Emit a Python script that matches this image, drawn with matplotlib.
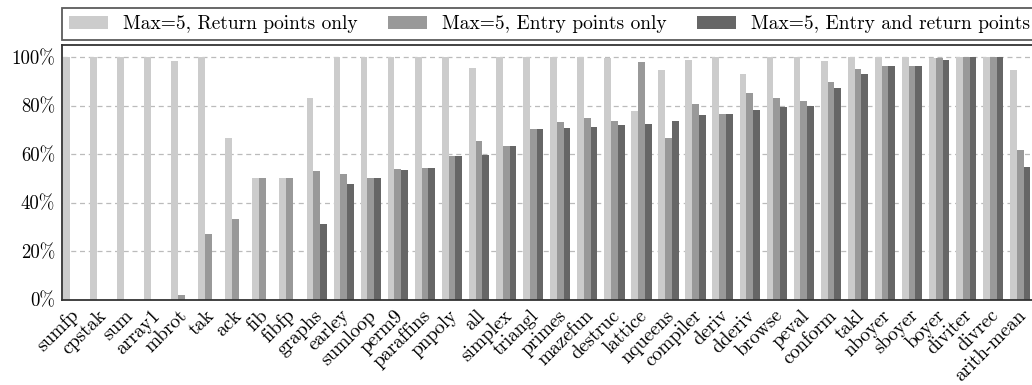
import numpy as np
import matplotlib
matplotlib.use('Agg')
import matplotlib.pyplot as plt

plt.rcParams['font.family'] = ['cmr10', 'DejaVu Serif']
plt.rcParams['axes.unicode_minus'] = False

benchmarks = ['sumfp', 'cpstak', 'sum', 'array1', 'mbrot', 'tak', 'ack', 'fib', 'fibfp',
              'graphs', 'earley', 'sumloop', 'perm9', 'paraffins', 'pnpoly', 'all',
              'simplex', 'triangl', 'primes', 'mazefun', 'destruc', 'lattice', 'nqueens',
              'compiler', 'deriv', 'dderiv', 'browse', 'peval', 'conform', 'takl',
              'nboyer', 'sboyer', 'boyer', 'diviter', 'divrec', 'arith-mean']

return_only = [100, 100, 100, 100, 98.6, 100, 66.5, 50, 50,
               83.0, 100, 100, 100, 100, 100, 95.7,
               100, 100, 100, 100, 99.6, 77.6, 94.5,
               99.0, 100, 92.9, 100, 100, 98.2, 100,
               100, 100, 99.5, 100, 100, 94.5]
entry_only = [0, 0, 0, 0, 1.8, 26.9, 33.1, 50, 50,
              52.9, 51.6, 50.0, 53.7, 54.1, 59.1, 65.2,
              63.2, 70.2, 73.1, 74.7, 73.5, 97.8, 66.5,
              80.5, 76.4, 85.0, 83.0, 81.7, 89.6, 95.3,
              96.2, 96.2, 99.5, 100, 100, 61.5]
entry_return = [0, 0, 0, 0, 0, 0, 0, 0, 0,
                31.0, 47.5, 50.0, 53.3, 54.1, 59.1, 59.5,
                63.2, 70.2, 70.6, 71.0, 71.8, 72.3, 73.5,
                76.0, 76.4, 78.0, 79.3, 79.7, 87.1, 92.9,
                96.2, 96.2, 99.0, 100, 100, 54.5]

series = [('Max=5, Return points only', return_only, '#cccccc'),
          ('Max=5, Entry points only', entry_only, '#999999'),
          ('Max=5, Entry and return points', entry_return, '#666666')]

x = np.arange(len(benchmarks))
w = 0.25

fig = plt.figure(figsize=(10.32, 3.85), dpi=100)
ax = fig.add_axes([62 / 1032, 1 - 299.5 / 385, 980 / 1032, 254.5 / 385])

for i, (name, vals, col) in enumerate(series):
    ax.bar(x + (i - 1) * w, vals, w, color=col, label=name, zorder=2)

ax.set_ylim(0, 105)
ax.set_xlim(-0.41, 35.8)
ax.set_yticks([0, 20, 40, 60, 80, 100])
ax.set_yticklabels(['0%', '20%', '40%', '60%', '80%', '100%'], fontsize=13.5)
ax.set_xticks(x - 0.12)
ax.set_xticklabels(benchmarks, rotation=45, ha='right', rotation_mode='anchor', fontsize=14)
ax.tick_params(length=0, pad=5)

for y in [20, 40, 60, 80, 100]:
    ax.axhline(y, color='#bbbbbb', linestyle=(0, (4, 3)), linewidth=0.9, zorder=1)

for s in ax.spines.values():
    s.set_color('#333333')
    s.set_linewidth(1.3)

handles, labels = ax.get_legend_handles_labels()
leg = fig.legend(handles, labels, loc='lower left', ncol=3, mode='expand',
                 bbox_to_anchor=(62 / 1032, 1 - 40 / 385, 975 / 1032, 33 / 385),
                 fontsize=14, frameon=True, fancybox=False, borderaxespad=0,
                 handlelength=2.0, handleheight=0.6, handletextpad=0.8,
                 borderpad=0.35)
leg.get_frame().set_edgecolor('#333333')
leg.get_frame().set_linewidth(1.3)

fig.savefig('out.png', dpi=100)
